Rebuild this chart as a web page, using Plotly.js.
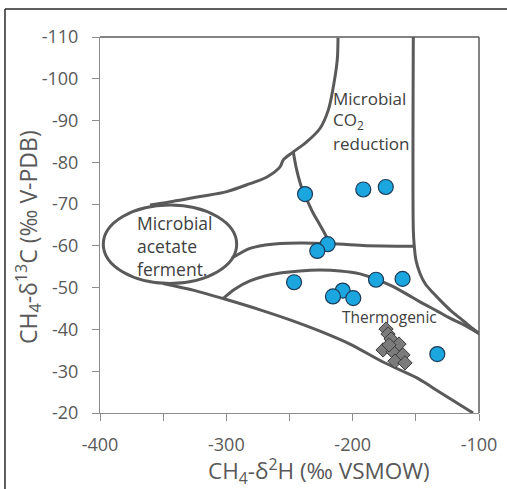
<!DOCTYPE html>
<html>
<head>
<meta charset="utf-8">
<script src="https://cdn.plot.ly/plotly-3.0.1.min.js"></script>
<style>html,body{margin:0;padding:0;background:#fff;}#chart{width:507px;height:489px;}</style>
</head>
<body>
<div id="chart"></div>
<script>
// ---- Sample data (CH4 isotopes) ----
const sampleD2H  = [-237.7, -191.6, -173.8, -219.8, -228.0, -246.4, -181.5, -160.5, -207.9, -215.6, -199.5, -133.0];
const sampleD13C = [-72.4, -73.5, -74.1, -60.4, -58.8, -51.3, -51.9, -52.1, -49.3, -47.9, -47.5, -34.1];

const diamondD2H  = [-173.6, -172.0, -169.6, -163.3, -175.9, -168.0, -160.2, -166.5, -158.6, -171.2];
const diamondD13C = [-40.1, -38.9, -37.7, -36.5, -35.1, -34.6, -33.9, -32.4, -32.0, -36.3];

// ---- Genetic field boundaries ----
const bound1X = [-211.6, -212.2, -215.3, -219.3, -225.9, -236.4, -247.0, -254.9, -257.5, -267.8, -281.3, -299.5, -320.8, -347.0, -360.4];
const bound1Y = [-109.8, -104.5, -98.1, -92.5, -88.1, -84.9, -82.5, -80.6, -78.9, -76.5, -74.9, -73.0, -71.8, -70.4, -69.8];

const bound2X = [-247.0, -244.3, -240.3, -235.4, -231.2, -225.9, -220.3, -218.7];
const bound2Y = [-82.5, -78.2, -73.9, -70.5, -67.8, -65.0, -61.9, -60.7];

const bound3X = [-295.5, -281.3, -269.4, -257.5, -241.7, -220.3, -191.8, -152.2];
const bound3Y = [-57.1, -59.4, -60.2, -60.6, -60.7, -60.6, -60.1, -59.9];

const bound4X = [-152.0, -152.0, -151.4, -149.9, -146.7, -142.7, -136.2, -129.5, -123.0, -115.0, -107.1, -99.6];
const bound4Y = [-110.0, -63.8, -60.6, -56.6, -53.4, -51.0, -48.7, -46.6, -44.7, -42.7, -40.7, -39.0];

const bound5X = [-302.6, -293.1, -281.3, -269.4, -257.5, -241.7, -225.9, -210.0, -194.2, -182.3, -170.4, -158.6, -146.7, -133.2, -123.0, -113.4, -100.0];
const bound5Y = [-47.4, -49.7, -51.6, -52.8, -53.5, -54.0, -54.2, -54.0, -53.3, -52.1, -50.6, -48.7, -46.6, -44.4, -42.7, -41.3, -39.0];

const bound6X = [-350.1, -324.8, -302.6, -273.3, -249.6, -225.9, -202.1, -176.0, -149.1, -136.4, -104.7];
const bound6Y = [-51.0, -49.3, -47.4, -44.7, -42.3, -39.6, -36.5, -32.2, -28.4, -26.0, -20.0];

// acetate fermentation field (ellipse bounds)
const acetateX = [-397.4, -291.8];
const acetateY = [-69.8, -51.0];

// ---- Axis ticks ----
const xTickVals = [-400, -300, -200, -100];
const xTickText = ['-400', '-300', '-200', '-100'];
const xMinorVals = [-350, -250, -150];
const yTickVals = [-110, -100, -90, -80, -70, -60, -50, -40, -30, -20];
const yTickText = ['-110', '-100', '-90', '-80', '-70', '-60', '-50', '-40', '-30', '-20'];

const FONT = 'Open Sans, Liberation Sans, sans-serif';
const lineStyle = {color: '#5a5a5a', width: 3, shape: 'spline', smoothing: 0.9};

function boundary(x, y) {
  return {x: x, y: y, type: 'scatter', mode: 'lines', line: lineStyle, hoverinfo: 'skip', showlegend: false};
}

const traces = [
  boundary(bound1X, bound1Y),
  boundary(bound2X, bound2Y),
  boundary(bound3X, bound3Y),
  boundary(bound4X, bound4Y),
  boundary(bound5X, bound5Y),
  boundary(bound6X, bound6Y),
  {
    x: diamondD2H, y: diamondD13C, type: 'scatter', mode: 'markers', showlegend: false,
    marker: {symbol: 'diamond', size: 11, color: '#7b7b7b', line: {color: '#3c3c3c', width: 1}}
  },
  {
    x: sampleD2H, y: sampleD13C, type: 'scatter', mode: 'markers', showlegend: false,
    marker: {symbol: 'circle', size: 15, color: '#1ba6df', line: {color: '#1d3b57', width: 1.2}}
  }
];

function note(text, x, y, size) {
  return {text: text, x: x, y: y, xref: 'x', yref: 'y', xanchor: 'left', yanchor: 'middle',
          align: 'left', showarrow: false, font: {family: FONT, size: size, color: '#404040'}};
}

const layout = {
  width: 507, height: 489,
  margin: {l: 100, r: 28, t: 37, b: 76, pad: 0},
  paper_bgcolor: '#ffffff', plot_bgcolor: '#ffffff',
  showlegend: false,
  font: {family: FONT, color: '#595959'},
  xaxis: {
    range: [-400, -100], tickvals: xTickVals, ticktext: xTickText,
    ticks: 'outside', ticklen: 7, tickcolor: '#8c8c8c', tickwidth: 1,
    minor: {tickvals: xMinorVals, ticks: 'outside', ticklen: 7, tickcolor: '#8c8c8c', tickwidth: 1, showgrid: false},
    showline: true, linecolor: '#8c8c8c', linewidth: 1, showgrid: false, zeroline: false,
    tickfont: {family: FONT, size: 18, color: '#595959'}, ticklabelstandoff: 8
  },
  yaxis: {
    range: [-20, -110], tickvals: yTickVals, ticktext: yTickText,
    ticks: 'outside', ticklen: 7, tickcolor: '#8c8c8c', tickwidth: 1,
    showline: true, linecolor: '#8c8c8c', linewidth: 1, showgrid: false, zeroline: false,
    tickfont: {family: FONT, size: 18, color: '#595959'}, ticklabelstandoff: 10
  },
  shapes: [
    {type: 'circle', xref: 'x', yref: 'y', x0: acetateX[0], x1: acetateX[1], y0: acetateY[0], y1: acetateY[1],
     line: {color: '#5a5a5a', width: 3}, fillcolor: 'rgba(255,255,255,0)', layer: 'below'},
    {type: 'line', xref: 'paper', yref: 'paper', x0: 0, x1: 1, y0: 1, y1: 1, line: {color: '#5a5a5a', width: 1.5}},
    {type: 'line', xref: 'paper', yref: 'paper', x0: 1, x1: 1, y0: 0, y1: 1, line: {color: '#5a5a5a', width: 1.5}},
    {type: 'line', xref: 'paper', yref: 'paper', x0: -0.2507, x1: 1.13, y0: 1.0745, y1: 1.0745, line: {color: '#2a2a2a', width: 1.5}},
    {type: 'line', xref: 'paper', yref: 'paper', x0: -0.2507, x1: -0.2507, y0: -0.21, y1: 1.0745, line: {color: '#2a2a2a', width: 1.5}}
  ],
  annotations: [
    note('Microbial', -217, -95.2, 17),
    note('CO<sub>2</sub>', -217, -90.0, 17),
    note('reduction', -217, -84.6, 17),
    note('Microbial<br>acetate<br>ferment.', -372.3, -60, 17.5),
    {text: 'Thermogenic', x: -171.2, y: -43, xref: 'x', yref: 'y',
     xanchor: 'center', yanchor: 'middle', showarrow: false,
     font: {family: FONT, size: 15.5, color: '#404040'}},
    {text: 'CH<sub>4</sub>-δ<sup>2</sup>H (‰ VSMOW)', x: 0.578, y: -0.154, xref: 'paper', yref: 'paper',
     xanchor: 'center', yanchor: 'middle', showarrow: false,
     font: {family: FONT, size: 22.5, color: '#595959'}},
    {text: 'CH<sub>4</sub>-δ<sup>13</sup>C (‰ V-PDB)', x: -0.19, y: 0.468, xref: 'paper', yref: 'paper',
     xanchor: 'center', yanchor: 'middle', showarrow: false, textangle: -90,
     font: {family: FONT, size: 23, color: '#595959'}}
  ]
};

Plotly.newPlot('chart', traces, layout, {staticPlot: true, displayModeBar: false});
</script>
</body>
</html>
